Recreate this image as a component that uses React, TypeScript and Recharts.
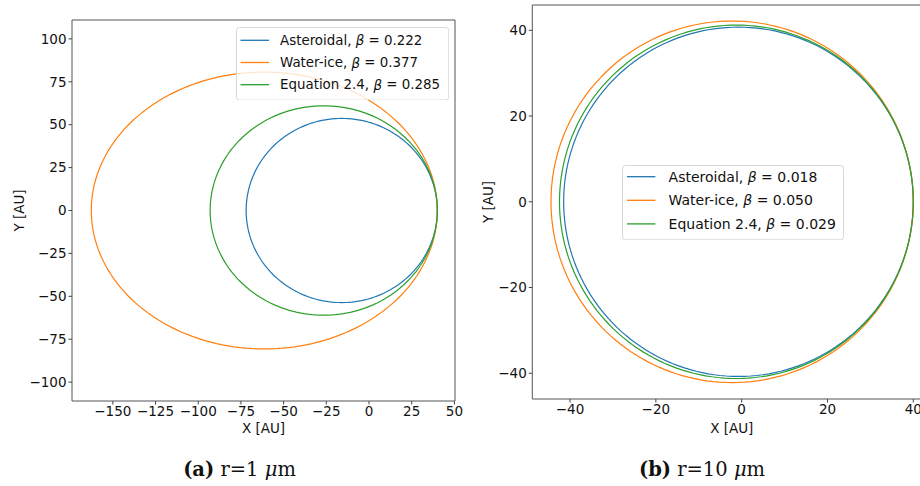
import {
  ScatterChart,
  Scatter,
  XAxis,
  YAxis,
  ReferenceArea,
  Legend,
} from 'recharts';

// grain types and their radiation-pressure ratios for the two grain sizes
const GRAIN_TYPES = ['Asteroidal', 'Water-ice', 'Equation 2.4'];
const BETA_1UM = [0.222, 0.377, 0.285];
const BETA_10UM = [0.018, 0.05, 0.029];
const COLORS = ['#1f77b4', '#ff7f0e', '#2ca02c'];

// parent body on a circular orbit at this distance [AU]
const RELEASE_AU = 40;

const TICKS_A_X = [-150, -125, -100, -75, -50, -25, 0, 25, 50];
const TICKS_A_Y = [-100, -75, -50, -25, 0, 25, 50, 75, 100];
const TICKS_B_X = [-40, -20, 0, 20, 40];
const TICKS_B_Y = [-40, -20, 0, 20, 40];

const DOMAIN_A_X: [number, number] = [-173.9, 50.35];
const DOMAIN_A_Y: [number, number] = [-111, 111];
const DOMAIN_B_X: [number, number] = [-48.8, 44.2];
const DOMAIN_B_Y: [number, number] = [-46, 45.9];

const FONT = '"DejaVu Sans", sans-serif';

// Kepler orbit of a grain released at rest (relative to its parent) with
// ratio beta: gravity is reduced to (1 - beta) and the release point is
// the pericentre, so a = (1 - beta) r0 / (1 - 2 beta), focus at the origin.
function orbit(beta: number) {
  const a = ((1 - beta) * RELEASE_AU) / (1 - 2 * beta);
  const c = a - RELEASE_AU;
  const b = Math.sqrt(a * a - c * c);
  const pts: { x: number; y: number }[] = [];
  for (let i = 0; i <= 360; i += 2) {
    const E = (i * Math.PI) / 180;
    pts.push({ x: -c + a * Math.cos(E), y: b * Math.sin(E) });
  }
  return pts;
}

const fmt = (v: number) => String(v).replace('-', '\u2212');

const tickStyle = { fontFamily: FONT, fontSize: 13.5, fill: '#111' };

function LegendBox({
  betas,
  fontSize,
  rowH,
  firstRow,
  lineX,
  lineW,
  textX,
  width,
  height,
}: {
  betas: number[];
  fontSize: number;
  rowH: number;
  firstRow: number;
  lineX: number;
  lineW: number;
  textX: number;
  width: number;
  height: number;
}) {
  return (
    <svg width={width + 1} height={height + 1} style={{ display: 'block' }}>
      <rect
        x={0.5}
        y={0.5}
        width={width}
        height={height}
        rx={3}
        fill="#fff"
        fillOpacity={0.8}
        stroke="#d6d6d6"
      />
      {betas.map((b, i) => {
        const cy = firstRow + i * rowH;
        return (
          <g key={GRAIN_TYPES[i]}>
            <line
              x1={lineX}
              x2={lineX + lineW}
              y1={cy}
              y2={cy}
              stroke={COLORS[i]}
              strokeWidth={1.3}
            />
            <text
              x={textX}
              y={cy}
              dominantBaseline="central"
              style={{ fontFamily: FONT, fontSize, fill: '#111' }}
            >
              {GRAIN_TYPES[i]}, <tspan fontStyle="italic">β</tspan> = {b.toFixed(3)}
            </text>
          </g>
        );
      })}
    </svg>
  );
}

function xTitle(cy: number) {
  return (props: any) => {
    const vb = props.viewBox;
    return (
      <text
        x={vb.x + vb.width / 2}
        y={cy}
        textAnchor="middle"
        dominantBaseline="central"
        style={{ fontFamily: FONT, fontSize: 13.5, fill: '#111' }}
      >
        X [AU]
      </text>
    );
  };
}

function yTitle(cx: number) {
  return (props: any) => {
    const vb = props.viewBox;
    const cy = vb.y + vb.height / 2;
    return (
      <text
        x={cx}
        y={cy}
        transform={`rotate(-90, ${cx}, ${cy})`}
        textAnchor="middle"
        dominantBaseline="central"
        style={{ fontFamily: FONT, fontSize: 13.5, fill: '#111' }}
      >
        Y [AU]
      </text>
    );
  };
}

function OrbitPanel({
  betas,
  width,
  height,
  margin,
  yAxisWidth,
  xAxisHeight,
  domainX,
  domainY,
  ticksX,
  ticksY,
  yTitleX,
  legend,
  legendPos,
}: any) {
  return (
    <ScatterChart width={width} height={height} margin={margin}>
      <XAxis
        type="number"
        dataKey="x"
        domain={domainX}
        ticks={ticksX}
        allowDataOverflow
        height={xAxisHeight}
        axisLine={false}
        tickSize={3.5}
        tickMargin={2}
        tickLine={{ stroke: '#444' }}
        tick={tickStyle}
        tickFormatter={fmt}
        interval={0}
        label={xTitle(428)}
      />
      <YAxis
        type="number"
        dataKey="y"
        domain={domainY}
        ticks={ticksY}
        allowDataOverflow
        width={yAxisWidth}
        axisLine={false}
        tickSize={3.5}
        tickMargin={2}
        tickLine={{ stroke: '#444' }}
        tick={tickStyle}
        tickFormatter={fmt}
        interval={0}
        label={yTitle(yTitleX)}
      />
      {betas.map((b: number, i: number) => (
        <Scatter
          key={GRAIN_TYPES[i]}
          name={GRAIN_TYPES[i]}
          data={orbit(b)}
          line={{ stroke: COLORS[i], strokeWidth: 1.2 }}
          shape={() => <g />}
          isAnimationActive={false}
        />
      ))}
      <ReferenceArea
        x1={domainX[0]}
        x2={domainX[1]}
        y1={domainY[0]}
        y2={domainY[1]}
        fill="none"
        stroke="#555"
        strokeWidth={1}
        ifOverflow="visible"
      />
      <Legend
        layout="vertical"
        align="center"
        verticalAlign="middle"
        wrapperStyle={{ left: legendPos.left, top: legendPos.top, width: 'auto' }}
        content={() => legend}
      />
    </ScatterChart>
  );
}

export default function App() {
  return (
    <div
      style={{
        position: 'absolute',
        left: 0,
        top: 0,
        width: 920,
        height: 486,
        overflow: 'hidden',
        background: '#fff',
      }}
    >
      <div style={{ position: 'absolute', left: 0, top: 0 }}>
        <OrbitPanel
          betas={BETA_1UM}
          width={470}
          height={440}
          margin={{ top: 20, right: 15, bottom: 0, left: 0 }}
          yAxisWidth={72}
          xAxisHeight={39}
          domainX={DOMAIN_A_X}
          domainY={DOMAIN_A_Y}
          ticksX={TICKS_A_X}
          ticksY={TICKS_A_Y}
          yTitleX={19}
          legendPos={{ left: 236, top: 26.7 }}
          legend={
            <LegendBox
              betas={BETA_1UM}
              fontSize={13.4}
              rowH={22.2}
              firstRow={13.3}
              lineX={4.5}
              lineW={28.6}
              textX={44}
              width={212.3}
              height={72.6}
            />
          }
        />
      </div>
      <div style={{ position: 'absolute', left: 470, top: 0 }}>
        <OrbitPanel
          betas={BETA_10UM}
          width={480}
          height={440}
          margin={{ top: 5, right: 18.7, bottom: 0, left: 0 }}
          yAxisWidth={62.3}
          xAxisHeight={41}
          domainX={DOMAIN_B_X}
          domainY={DOMAIN_B_Y}
          ticksX={TICKS_B_X}
          ticksY={TICKS_B_Y}
          yTitleX={18}
          legendPos={{ left: 151.7, top: 165 }}
          legend={
            <LegendBox
              betas={BETA_10UM}
              fontSize={14}
              rowH={23.6}
              firstRow={11.7}
              lineX={5}
              lineW={28.4}
              textX={46.6}
              width={221}
              height={74.3}
            />
          }
        />
      </div>
      <svg
        width={920}
        height={486}
        style={{ position: 'absolute', left: 0, top: 0, pointerEvents: 'none' }}
      >
        <text
          x={239.5}
          y={476}
          textAnchor="middle"
          style={{ fontFamily: '"DejaVu Serif", serif', fontSize: 19.5, fill: '#111' }}
        >
          <tspan fontWeight="bold">(a)</tspan> r=1 <tspan fontStyle="italic">μ</tspan>m
        </text>
        <text
          x={702}
          y={476}
          textAnchor="middle"
          style={{ fontFamily: '"DejaVu Serif", serif', fontSize: 19.5, fill: '#111' }}
        >
          <tspan fontWeight="bold">(b)</tspan> r=10 <tspan fontStyle="italic">μ</tspan>m
        </text>
      </svg>
    </div>
  );
}
